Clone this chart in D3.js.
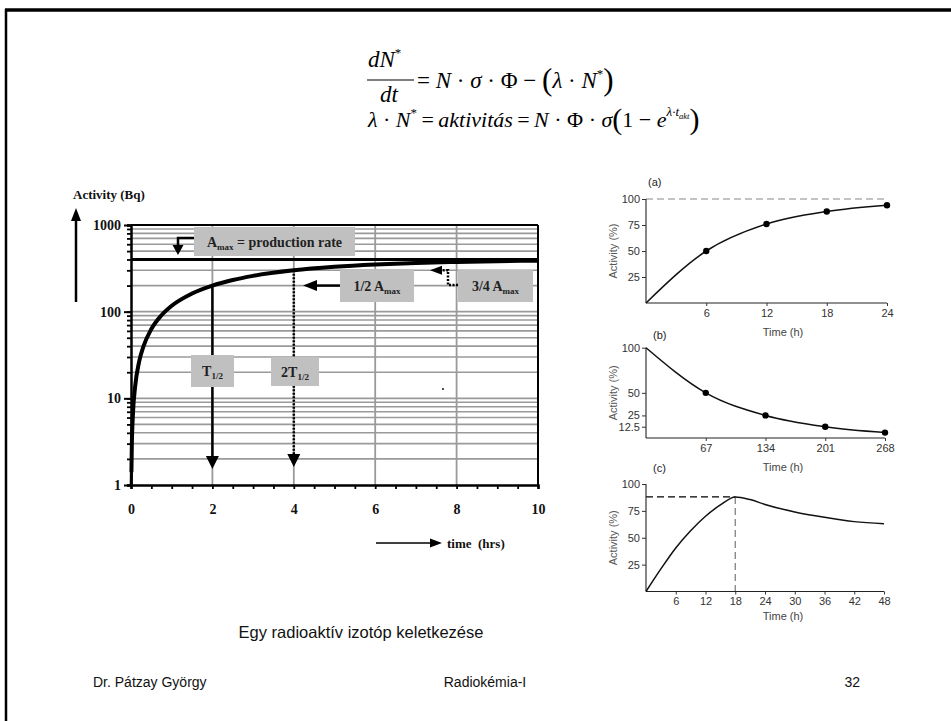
<!DOCTYPE html>
<html><head><meta charset="utf-8">
<script src="https://cdn.jsdelivr.net/npm/d3@7"></script>
<style>
html,body{margin:0;padding:0;background:#fff;}
text{white-space:pre;}
</style></head>
<body>
<svg id="c" width="951" height="721"></svg>
<script>
// ---------- DATA ----------
const mainT = [0.01,0.02,0.05,0.1,0.2,0.3,0.5,0.75,1,1.5,2,2.5,3,4,5,6,7,8,9,10];
const mainA = [1.4,2.8,6.9,13.5,26.5,39,63,91,117,162,200,232,259,300,329,350,365,375,382,388];
const amax = 400;
const halfA = 200, threeQA = 300;
const mainXTicks = [0,2,4,6,8,10];
const mainYTicks = [1,10,100,1000];

const aT = [0,6,12,18,24];
const aV = [0,50,76,88,94];
const aXTicks = [6,12,18,24];
const aYTicks = [25,50,75,100];

const bT = [0,67,134,201,268];
const bV = [100,50,25,12.5,6];
const bXTicks = [67,134,201,268];
const bYTicks = [12.5,25,50,100];

const cT = [0,3,6,9,12,15,18,21,24,30,36,42,48];
const cV = [0,21,40.5,56.5,70,80.5,88,85.5,81,74,69,65,63];
const cXTicks = [6,12,18,24,30,36,42,48];
const cYTicks = [25,50,75,100];
const cPeak = {t:18, v:88};

const svg = d3.select("#c");
const SERIF = "Liberation Serif, Times New Roman, serif";
const SANS = "Liberation Sans, Arial, sans-serif";

// ---------- slide border ----------
svg.append("line").attr("x1",5).attr("x2",951).attr("y1",10).attr("y2",10).attr("stroke","#000").attr("stroke-width",3.3);
svg.append("line").attr("x1",6).attr("x2",6).attr("y1",9).attr("y2",721).attr("stroke","#000").attr("stroke-width",2.5);

// ---------- formula ----------
const f = svg.append("g").attr("font-family",SERIF).attr("font-size",23).attr("fill","#000");
let t1 = f.append("text").attr("x",368).attr("y",67);
t1.append("tspan").attr("font-style","italic").text("dN");
t1.append("tspan").attr("font-size",13).attr("dy",-10).text("*");
f.append("line").attr("x1",367).attr("x2",414).attr("y1",80).attr("y2",80).attr("stroke","#000").attr("stroke-width",1.2);
f.append("text").attr("x",380).attr("y",102).attr("font-style","italic").text("dt");
let t2 = f.append("text").attr("x",417).attr("y",88);
t2.append("tspan").text("= ");
t2.append("tspan").attr("font-style","italic").text("N");
t2.append("tspan").text(" · ");
t2.append("tspan").attr("font-style","italic").text("σ");
t2.append("tspan").text(" · Φ − ");
t2.append("tspan").attr("font-size",31).attr("dy",2).text("(");
t2.append("tspan").attr("font-style","italic").attr("dy",-2).text("λ");
t2.append("tspan").text(" · ");
t2.append("tspan").attr("font-style","italic").text("N");
t2.append("tspan").attr("font-size",13).attr("dy",-10).text("*");
t2.append("tspan").attr("font-size",31).attr("dy",12).text(")");

let t3 = f.append("text").attr("x",368).attr("y",127).attr("font-size",22);
t3.append("tspan").attr("font-style","italic").text("λ");
t3.append("tspan").text(" · ");
t3.append("tspan").attr("font-style","italic").text("N");
t3.append("tspan").attr("font-size",13).attr("dy",-10).text("*");
t3.append("tspan").attr("dy",10).text("\u2009=\u2009");
t3.append("tspan").attr("font-style","italic").text("aktivitás");
t3.append("tspan").text("\u2009=\u2009");
t3.append("tspan").attr("font-style","italic").text("N");
t3.append("tspan").text(" · Φ · ");
t3.append("tspan").attr("font-style","italic").text("σ");
t3.append("tspan").attr("font-size",30).attr("dy",2).text("(");
t3.append("tspan").attr("dy",-2).text("1 − ");
t3.append("tspan").attr("font-style","italic").text("e");
t3.append("tspan").attr("font-style","italic").attr("font-size",13).attr("dy",-11).text("λ·t");
t3.append("tspan").attr("font-style","italic").attr("font-size",8.5).attr("dy",3).text("akt");
t3.append("tspan").attr("font-size",30).attr("dy",10).text(")");

// ---------- main chart ----------
const x = d3.scaleLinear().domain([0,10]).range([131,538]);
const y = d3.scaleLog().domain([1,1000]).range([485,225]);
const g = svg.append("g");

// gridlines
const minor = [];
[1,10,100].forEach(d => { for (let k=1;k<=9;k++){ if(d*k>1) minor.push(d*k);} });
g.selectAll(".hg").data(minor.filter(v=>v<1000)).enter().append("line")
 .attr("x1",x(0)).attr("x2",x(10)).attr("y1",d=>y(d)).attr("y2",d=>y(d))
 .attr("stroke","#9a9a9a").attr("stroke-width",1.6);
g.selectAll(".vg").data([2,4,6,8]).enter().append("line")
 .attr("x1",d=>x(d)).attr("x2",d=>x(d)).attr("y1",y(1000)).attr("y2",y(1))
 .attr("stroke","#9a9a9a").attr("stroke-width",1.8);

// top & right border
g.append("line").attr("x1",x(0)).attr("x2",x(10)).attr("y1",y(1000)).attr("y2",y(1000)).attr("stroke","#000").attr("stroke-width",2);
g.append("line").attr("x1",x(10)).attr("x2",x(10)).attr("y1",y(1000)).attr("y2",y(1)).attr("stroke","#000").attr("stroke-width",2);

// Amax line
g.append("line").attr("x1",x(0)).attr("x2",x(10)).attr("y1",y(amax)).attr("y2",y(amax)).attr("stroke","#000").attr("stroke-width",3);

// curve
const line = d3.line().x((d,i)=>x(mainT[i])).y(d=>y(d)).curve(d3.curveMonotoneX);
g.append("path").attr("d",line(mainA)).attr("fill","none").attr("stroke","#000").attr("stroke-width",4);
g.append("line").attr("x1",x(0.005)).attr("x2",x(mainT[0])).attr("y1",y(1)-1).attr("y2",y(mainA[0])).attr("stroke","#000").attr("stroke-width",3);

function headDown(px,tip,w,h){ g.append("path").attr("d",`M${px},${tip} L${px-w/2},${tip-h} L${px+w/2},${tip-h} Z`).attr("fill","#000"); }
function headLeft(tip,py,w,h){ g.append("path").attr("d",`M${tip},${py} L${tip+h},${py-w/2} L${tip+h},${py+w/2} Z`).attr("fill","#000"); }

// T1/2 arrow (solid)
g.append("line").attr("x1",x(2)).attr("x2",x(2)).attr("y1",y(halfA)).attr("y2",458).attr("stroke","#000").attr("stroke-width",2.5);
headDown(x(2),469,13,13);
// 2T1/2 arrow (dotted)
g.append("line").attr("x1",x(4)).attr("x2",x(4)).attr("y1",y(threeQA)).attr("y2",456).attr("stroke","#000").attr("stroke-width",2.5).attr("stroke-dasharray","2,1.5");
headDown(x(4),467,13,13);

// Amax bent arrow
g.append("path").attr("d","M194,238 L178,238 L178,246").attr("fill","none").attr("stroke","#000").attr("stroke-width",2.5);
headDown(178,255,11,10);
// 1/2 Amax arrow
g.append("line").attr("x1",340).attr("x2",315).attr("y1",y(halfA)).attr("y2",y(halfA)).attr("stroke","#000").attr("stroke-width",2.5);
headLeft(303,y(halfA),11,14);
// 3/4 Amax dotted arrow
g.append("path").attr("d",`M458,285 L448,285 L448,${y(threeQA)} L441,${y(threeQA)}`).attr("fill","none").attr("stroke","#000").attr("stroke-width",2.5).attr("stroke-dasharray","2,1.5");
headLeft(430,y(threeQA),9,12);

// boxes
function box(x0,y0,x1,y1){ g.append("rect").attr("x",x0).attr("y",y0).attr("width",x1-x0).attr("height",y1-y0).attr("fill","#c0c0c0"); }
box(194,227,355,256);
box(340,269,414,302);
box(458,270,533,302);
box(191,355,234,387);
box(271,357,319,386);

const lab = g.append("g").attr("font-family",SERIF).attr("font-weight","bold").attr("font-size",14).attr("fill","#222");
function subText(cx,cy,main,sub,post){
  const t = lab.append("text").attr("x",cx).attr("y",cy+5).attr("text-anchor","middle");
  t.append("tspan").text(main);
  t.append("tspan").attr("font-size",9).attr("dy",3).text(sub);
  if (post) t.append("tspan").attr("dy",-3).text(post);
}
subText(274.5,241.5,"A","max"," = production rate");
subText(377,285.5,"1/2 A","max");
subText(495.5,286,"3/4 A","max");
subText(212.5,371,"T","1/2");
subText(295,371.5,"2T","1/2");

// stray dot
g.append("circle").attr("cx",443).attr("cy",389).attr("r",0.9).attr("fill","#000");

// axes
const yAx = g.append("g").attr("transform",`translate(${x(0)},0)`)
  .call(d3.axisLeft(y).tickValues(minor.concat([1,1000])).tickSize(4).tickFormat(""));
yAx.select(".domain").attr("stroke","#000").attr("stroke-width",2.5);
yAx.selectAll(".tick line").attr("stroke","#000").attr("stroke-width",1.8);
const yAx2 = g.append("g").attr("transform",`translate(${x(0)},0)`)
  .call(d3.axisLeft(y).tickValues(mainYTicks).tickSize(7).tickFormat(d3.format("d")));
yAx2.select(".domain").remove();
yAx2.selectAll(".tick line").attr("stroke","#000").attr("stroke-width",2);
yAx2.selectAll("text").attr("font-family",SERIF).attr("font-weight","bold").attr("font-size",14).attr("fill","#111").attr("x",-10);

const xAx = g.append("g").attr("transform",`translate(0,${y(1)})`)
  .call(d3.axisBottom(x).tickValues(d3.range(0,10.01,0.5)).tickSize(4).tickFormat(""));
xAx.select(".domain").attr("stroke","#000").attr("stroke-width",2.5);
xAx.selectAll(".tick line").attr("stroke","#000").attr("stroke-width",1.8);
const xAx2 = g.append("g").attr("transform",`translate(0,${y(1)})`)
  .call(d3.axisBottom(x).tickValues(mainXTicks).tickSize(0).tickPadding(19).tickFormat(d3.format("d")));
xAx2.select(".domain").remove();
xAx2.selectAll("text").attr("font-family",SERIF).attr("font-weight","bold").attr("font-size",14).attr("fill","#111");

// axis labels and arrows
g.append("text").attr("x",73).attr("y",199).attr("font-family",SERIF).attr("font-weight","bold").attr("font-size",13).attr("fill","#111").text("Activity (Bq)");
g.append("line").attr("x1",76).attr("x2",76).attr("y1",302).attr("y2",218).attr("stroke","#000").attr("stroke-width",2.5);
g.append("path").attr("d","M76,208 L71,221 L81,221 Z").attr("fill","#000");
g.append("line").attr("x1",376).attr("x2",432).attr("y1",543).attr("y2",543).attr("stroke","#000").attr("stroke-width",1.5);
g.append("path").attr("d","M442,543 L430,538.5 L430,547.5 Z").attr("fill","#000");
g.append("text").attr("x",447).attr("y",548).attr("font-family",SERIF).attr("font-weight","bold").attr("font-size",13).attr("fill","#111").text("time  (hrs)");

// ---------- small panels ----------
function panel(opt){
  const px = d3.scaleLinear().domain(opt.xd).range([646,opt.xr]);
  const py = d3.scaleLinear().domain([0,100]).range([opt.y0,opt.y100]);
  const pg = svg.append("g").attr("font-family",SANS).attr("font-size",11).attr("fill","#333");
  if (opt.dash100) pg.append("line").attr("x1",px(0)).attr("x2",px(opt.xd[1])).attr("y1",py(100)).attr("y2",py(100)).attr("stroke","#888").attr("stroke-width",1.2).attr("stroke-dasharray","7,4");
  if (opt.peak){
    pg.append("line").attr("x1",px(0)).attr("x2",px(opt.peak.t)).attr("y1",py(opt.peak.v)).attr("y2",py(opt.peak.v)).attr("stroke","#000").attr("stroke-width",1.2).attr("stroke-dasharray","7,4");
    pg.append("line").attr("x1",px(opt.peak.t)).attr("x2",px(opt.peak.t)).attr("y1",py(opt.peak.v)).attr("y2",py(0)).attr("stroke","#777").attr("stroke-width",1.2).attr("stroke-dasharray","7,4");
  }
  const xa = pg.append("g").attr("transform",`translate(0,${py(0)})`).call(d3.axisBottom(px).tickValues(opt.xt).tickSize(3).tickPadding(3).tickFormat(d3.format("d")));
  xa.select(".domain").attr("d",`M${px(0)},0H${px(opt.xd[1])}`).attr("stroke","#222").attr("stroke-width",1.1);
  xa.selectAll("text").attr("font-family",SANS).attr("font-size",11).attr("fill","#333");
  xa.selectAll(".tick line").attr("stroke","#333");
  const ya = pg.append("g").attr("transform",`translate(${px(0)},0)`).call(d3.axisLeft(py).tickValues(opt.yt).tickSize(4).tickPadding(2).tickFormat(d=>String(d)));
  ya.select(".domain").attr("d",`M0,${py(0)}V${py(100)}`).attr("stroke","#222").attr("stroke-width",1.1);
  ya.selectAll("text").attr("font-family",SANS).attr("font-size",11).attr("fill","#333");
  ya.selectAll(".tick line").attr("stroke","#333");
  const ln = d3.line().x((d,i)=>px(opt.t[i])).y(d=>py(d)).curve(d3.curveMonotoneX);
  pg.append("path").attr("d",ln(opt.v)).attr("fill","none").attr("stroke","#111").attr("stroke-width",1.5);
  if (opt.dots) pg.selectAll(".dot").data(opt.v.slice(1)).enter().append("circle")
    .attr("cx",(d,i)=>px(opt.t[i+1])).attr("cy",d=>py(d)).attr("r",3.2).attr("fill","#000");
  pg.append("text").attr("x",opt.labX).attr("y",opt.labY).attr("font-size",11).attr("fill","#222").text(opt.label);
  pg.append("text").attr("transform",`translate(617,${(py(0)+py(100))/2}) rotate(-90)`).attr("text-anchor","middle").attr("font-size",11).attr("fill","#555").text("Activity (%)");
  if (opt.timeY) pg.append("text").attr("x",783).attr("y",opt.timeY).attr("text-anchor","middle").attr("font-size",11).attr("fill","#444").text("Time (h)");
}
panel({xd:[0,24],xr:887,y0:303,y100:199,t:aT,v:aV,xt:aXTicks,yt:aYTicks,dots:true,dash100:true,label:"(a)",labX:648,labY:186,timeY:336});
panel({xd:[0,268],xr:885,y0:438,y100:347.7,t:bT,v:bV,xt:bXTicks,yt:bYTicks,dots:true,label:"(b)",labX:653,labY:339,timeY:471});
panel({xd:[0,48],xr:884,y0:591.5,y100:484,t:cT,v:cV,xt:cXTicks,yt:cYTicks,dots:false,peak:cPeak,label:"(c)",labX:653,labY:472,timeY:620});

// ---------- footer ----------
const ft = svg.append("g").attr("font-family",SANS).attr("fill","#111");
ft.append("text").attr("x",361).attr("y",638).attr("text-anchor","middle").attr("font-size",16.5).text("Egy radioaktív izotóp keletkezése");
ft.append("text").attr("x",93).attr("y",687).attr("font-size",14).text("Dr. Pátzay György");
ft.append("text").attr("x",485).attr("y",687).attr("text-anchor","middle").attr("font-size",14).text("Radiokémia-I");
ft.append("text").attr("x",860).attr("y",687).attr("text-anchor","end").attr("font-size",14).text("32");
</script>
</body></html>
